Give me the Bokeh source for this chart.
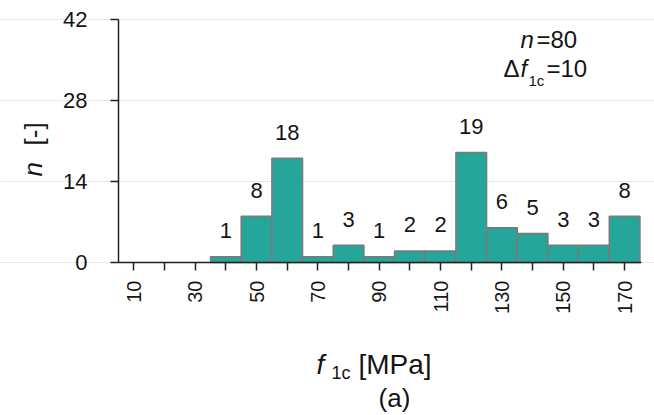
import math
from bokeh.plotting import figure
from bokeh.models import Label, FixedTicker, Range1d, ColumnDataSource, LinearAxis, Grid
from bokeh.core.properties import value
from bokeh.embed import file_html
from bokeh.resources import INLINE

# ---- data ----
bin_centers = [40, 50, 60, 70, 80, 90, 100, 110, 120, 130, 140, 150, 160, 170]
counts = [1, 8, 18, 1, 3, 1, 2, 2, 19, 6, 5, 3, 3, 8]
bin_width = 10
x_tick_values = [10, 20, 30, 40, 50, 60, 70, 80, 90, 100, 110, 120, 130, 140, 150, 160, 170]
x_tick_labels = ["10", "", "30", "", "50", "", "70", "", "90", "", "110", "", "130", "", "150", "", "170"]
y_tick_values = [0, 14, 28, 42]

# ---- layout (pixels) ----
W, H = 654, 415
AX_LEFT, AX_RIGHT, AX_TOP, AX_BOTTOM = 118, 641, 19, 262
X_MIN, X_MAX, Y_MIN, Y_MAX = 5, 175.5, 0, 42
kx = (X_MAX - X_MIN) / (AX_RIGHT - AX_LEFT)
ky = (Y_MAX - Y_MIN) / (AX_BOTTOM - AX_TOP)
xr = Range1d(X_MIN - AX_LEFT * kx, X_MAX + (W - AX_RIGHT) * kx)
yr = Range1d(Y_MIN - (H - AX_BOTTOM) * ky, Y_MAX + AX_TOP * ky)

FONT = "Liberation Sans"
TXT = "#151515"
BASE_FIX = 0.37  # baseline correction (fraction of font size)

p = figure(width=W, height=H, output_backend="svg", toolbar_location=None,
           x_range=xr, y_range=yr, x_axis_location=None, y_axis_location=None,
           min_border=0)
p.outline_line_color = None
p.background_fill_color = "white"
p.border_fill_color = "white"
p.grid.visible = False

grid = Grid(dimension=1, ticker=FixedTicker(ticks=y_tick_values), bounds=(X_MIN, X_MAX),
            grid_line_color="#e8e8e8", grid_line_width=1)
p.add_layout(grid)

BAR_FS = 22
src = ColumnDataSource(dict(x=bin_centers, top=counts, lab=[str(c) for c in counts]))
p.vbar(x="x", top="top", width=bin_width, bottom=0, source=src,
       fill_color="#26A69A", line_color="#7a7a7a", line_width=1.5)
p.text(x="x", y="top", text="lab", source=src, y_offset=-(18 + BASE_FIX * BAR_FS),
       text_align="center", text_baseline="alphabetic",
       text_font=value(FONT), text_font_size=f"{BAR_FS}px", text_color=TXT)

xaxis = LinearAxis(fixed_location=Y_MIN, bounds=(X_MIN, X_MAX),
                   ticker=FixedTicker(ticks=x_tick_values))
yaxis = LinearAxis(fixed_location=X_MIN, bounds=(Y_MIN, Y_MAX),
                   ticker=FixedTicker(ticks=y_tick_values))
for ax in (xaxis, yaxis):
    ax.axis_line_color = "#222222"
    ax.axis_line_width = 1.5
    ax.major_tick_line_color = "#222222"
    ax.major_tick_line_width = 1.5
    ax.major_tick_in = 0
    ax.major_tick_out = 8
    ax.minor_tick_line_color = None
    ax.major_label_text_font = FONT
    ax.major_label_text_color = TXT

xaxis.major_label_overrides = {v: l for v, l in zip(x_tick_values, x_tick_labels)}
xaxis.major_label_orientation = math.pi / 2
xaxis.major_label_text_font_size = "20px"
xaxis.major_label_standoff = 10

yaxis.major_label_text_font_size = "22px"
yaxis.major_label_standoff = 23

p.add_layout(xaxis, "below")
p.add_layout(yaxis, "left")


def lab(px, py, text, size, style="normal", angle=0.0, align="left"):
    # px, py: page pixel position (from top-left) of the visual text baseline start
    fix = BASE_FIX * size
    if angle:
        px -= fix
    else:
        py -= fix
    p.add_layout(Label(x=px, y=H - py, x_units="screen", y_units="screen", text=text,
                       text_font=FONT, text_font_size=f"{size}px", text_font_style=style,
                       text_color=TXT, text_align=align, text_baseline="alphabetic",
                       angle=angle))


# x-axis label: f_1c [MPa]
lab(316, 374, "f", 28, "italic")
lab(331, 379, "1c", 18)
lab(358, 374, "[MPa]", 28)
# (a)
lab(394, 407, "(a)", 26, align="center")

# y-axis label: n [-]
lab(42, 176, "n", 26, "italic", math.pi / 2)
lab(43, 145, "[-]", 26, "normal", math.pi / 2)

# annotation
lab(520, 48, "n", 24, "italic")
lab(536, 48, "=80", 24)
lab(503, 77, "Δ", 24)
lab(520, 77, "f", 24, "italic")
lab(528, 86, "1c", 15)
lab(546, 77, "=10", 24)

open("out.html", "w").write(file_html(p, INLINE))
